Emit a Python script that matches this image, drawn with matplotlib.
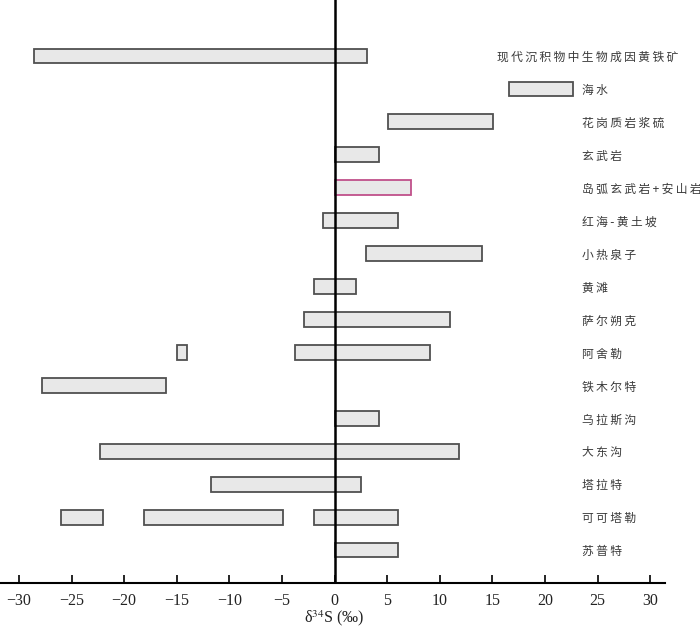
import matplotlib.pyplot as plt

plt.rcParams['font.family'] = ['Liberation Serif', 'DejaVu Serif']
plt.rcParams['mathtext.fontset'] = 'stix'

# rows from top to bottom
labels = ["现代沉积物中生物成因黄铁矿", "海水", "花岗质岩浆硫", "玄武岩", "岛弧玄武岩+安山岩",
          "红海-黄土坡", "小热泉子", "黄滩", "萨尔朔克", "阿舍勒", "铁木尔特", "乌拉斯沟",
          "大东沟", "塔拉特", "可可塔勒", "苏普特"]
# delta34S ranges (per mil) for each row, one or more segments
ranges = [
    [(-28.6, 3.1)],
    [(16.6, 22.7)],
    [(5.1, 15.1)],
    [(0.0, 4.25)],
    [(0.0, 7.3)],
    [(-1.1, 6.05)],
    [(2.95, 14.05)],
    [(-1.95, 2.05)],
    [(-2.9, 11.0)],
    [(-15.0, -14.0), (-3.8, 9.1)],
    [(-27.8, -16.0)],
    [(0.0, 4.25)],
    [(-22.3, 11.8)],
    [(-11.7, 2.5)],
    [(-26.0, -22.0), (-18.1, -4.9), (-1.95, 6.05)],
    [(0.0, 6.05)],
]
xticks = [-30, -25, -20, -15, -10, -5, 0, 5, 10, 15, 20, 25, 30]

fig = plt.figure(figsize=(7, 6.27), dpi=100)
ax = fig.add_axes([0.0, 0.0702, 0.95, 0.9298])

n = len(labels)
for i, (lab, segs) in enumerate(zip(labels, ranges)):
    y = n - i
    edge = "#c0508a" if lab.startswith("岛弧") else "#505050"
    for lo, hi in segs:
        ax.barh(y, hi - lo, left=lo, height=0.45, color="#e8e8e8",
                edgecolor=edge, linewidth=1.3, zorder=2)
    tx = 15.4 if i == 0 else 23.5
    # spaced-out characters like the original typesetting
    ax.text(tx, y - 0.05, "\u2009".join(lab), ha="left", va="center", fontsize=8.5,
            color="#3a3a3a", family=["Noto Sans CJK SC", "DejaVu Sans"])

ax.axvline(0, color="black", linewidth=1.8, zorder=3)
ax.set_xlim(-31.8, 31.4)
ax.set_ylim(0, 17.7)
ax.set_xticks(xticks)
ax.set_xticklabels([str(t).replace("-", "−") for t in xticks], fontsize=11.5, color="#222222")
ax.tick_params(axis="x", direction="in", length=6, width=1.2, pad=7)
ax.set_yticks([])
for s in ["top", "left", "right"]:
    ax.spines[s].set_visible(False)
ax.spines["bottom"].set_linewidth(1.5)
fig.text(334 / 700, 1 - 618 / 627, "δ$^{34}$S (‰)", ha="center", va="center",
         fontsize=11.5, color="#222222")

fig.savefig("out.png", dpi=100)
